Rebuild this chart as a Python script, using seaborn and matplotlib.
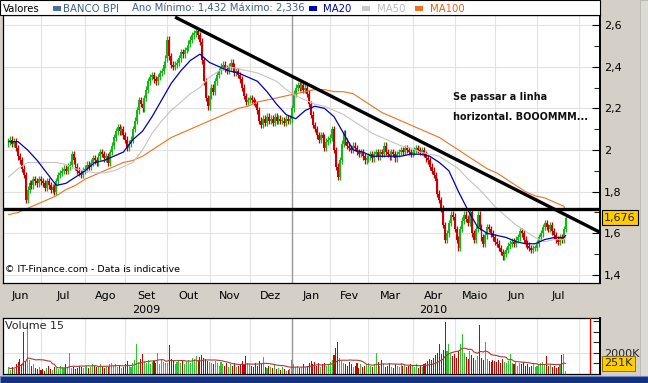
import numpy as np
import pandas as pd
import matplotlib
matplotlib.use("Agg")
import matplotlib.pyplot as plt
import matplotlib.transforms as mtransforms
from matplotlib.patches import Rectangle
from matplotlib import font_manager
from matplotlib.font_manager import FontProperties
import seaborn as sns

# ---------------- data ----------------
month_names = ["Jun", "Jul", "Ago", "Set", "Out", "Nov", "Dez",
               "Jan", "Fev", "Mar", "Abr", "Maio", "Jun", "Jul"]
month_days = [17, 23, 21, 22, 22, 21, 22, 20, 20, 23, 22, 21, 22, 16]
pre_days, post_days = 5, 6          # trading days of first/last month outside the data
year_labels = {"2009": 3, "2010": 10}   # label under month index

close_jun09 = [2.04, 2.05, 2.03, 2.04, 2.01, 1.97, 1.95, 1.91, 1.88, 1.76, 1.81, 1.84, 1.83, 1.86, 1.85, 1.84, 1.86]
close_jul09 = [1.85, 1.84, 1.82, 1.85, 1.83, 1.81, 1.82, 1.80, 1.85, 1.88, 1.89, 1.90, 1.91, 1.90, 1.92, 1.93,
               1.98, 1.95, 1.92, 1.90, 1.89, 1.88, 1.90]
close_aug09 = [1.91, 1.93, 1.92, 1.94, 1.96, 1.95, 1.94, 1.97, 1.99, 1.98, 1.96, 1.97, 1.94, 1.99, 2.02, 2.06,
               2.09, 2.11, 2.09, 2.10, 2.07]
close_sep09 = [2.05, 2.01, 2.03, 2.05, 2.10, 2.14, 2.19, 2.24, 2.22, 2.20, 2.25, 2.29, 2.33, 2.35, 2.36, 2.34,
               2.33, 2.35, 2.37, 2.38, 2.41, 2.44]
close_oct09 = [2.53, 2.45, 2.41, 2.40, 2.41, 2.42, 2.44, 2.47, 2.46, 2.48, 2.49, 2.51, 2.53, 2.55, 2.56, 2.57,
               2.55, 2.52, 2.43, 2.33, 2.25, 2.21]
close_nov09 = [2.26, 2.30, 2.28, 2.33, 2.36, 2.38, 2.40, 2.41, 2.39, 2.38, 2.40, 2.42, 2.40, 2.37, 2.38, 2.36,
               2.34, 2.30, 2.26, 2.23, 2.24]
close_dec09 = [2.25, 2.24, 2.23, 2.22, 2.19, 2.14, 2.12, 2.15, 2.13, 2.16, 2.14, 2.15, 2.13, 2.16, 2.14, 2.15,
               2.14, 2.14, 2.13, 2.15, 2.14, 2.15]
close_jan10 = [2.20, 2.27, 2.30, 2.31, 2.30, 2.31, 2.29, 2.30, 2.27, 2.22, 2.17, 2.12, 2.10, 2.07, 2.05, 2.07,
               2.06, 2.01, 2.04, 2.05]
close_feb10 = [2.06, 2.10, 2.00, 1.92, 1.87, 1.95, 2.03, 2.08, 2.04, 2.02, 2.01, 2.00, 2.02, 2.01, 1.99, 1.98,
               1.99, 1.97, 1.95, 1.96]
close_mar10 = [1.97, 1.98, 1.96, 1.98, 1.99, 1.97, 1.99, 1.98, 2.02, 1.99, 1.98, 1.97, 1.99, 1.98, 1.96, 1.98,
               1.99, 2.00, 1.99, 2.01, 2.00, 1.99, 1.98]
close_apr10 = [1.99, 2.00, 2.01, 2.00, 1.99, 2.00, 1.98, 1.96, 1.95, 1.92, 1.90, 1.88, 1.85, 1.79, 1.76, 1.72,
               1.64, 1.57, 1.60, 1.65, 1.69, 1.68]
close_may10 = [1.62, 1.57, 1.53, 1.62, 1.66, 1.69, 1.67, 1.65, 1.70, 1.60, 1.57, 1.62, 1.69, 1.63, 1.58, 1.55,
               1.59, 1.63, 1.62, 1.60, 1.58]
close_jun10 = [1.56, 1.55, 1.53, 1.51, 1.49, 1.50, 1.52, 1.54, 1.55, 1.56, 1.55, 1.57, 1.58, 1.61, 1.60, 1.57,
               1.55, 1.54, 1.53, 1.52, 1.53, 1.53]
close_jul10 = [1.55, 1.58, 1.60, 1.63, 1.65, 1.63, 1.62, 1.64, 1.61, 1.59, 1.57, 1.56, 1.58, 1.57, 1.62, 1.676]
first_open = 2.03
wick = 0.016

# moving averages sampled every 5 trading days (last point = last day)
ma_step = 5
ma20 = [2.04, 2.04, 2.00, 1.95, 1.89, 1.83, 1.84, 1.87, 1.90, 1.94,
        1.95, 1.97, 1.99, 2.05, 2.09, 2.16, 2.24, 2.32, 2.38, 2.43,
        2.46, 2.42, 2.40, 2.38, 2.37, 2.35, 2.33, 2.28, 2.22, 2.17,
        2.15, 2.19, 2.21, 2.20, 2.16, 2.08, 2.00, 1.99, 1.97, 1.97,
        1.97, 1.97, 1.98, 1.98, 1.97, 1.94, 1.90, 1.80, 1.71, 1.63,
        1.60, 1.59, 1.58, 1.56, 1.55, 1.55, 1.57, 1.58, 1.58, 1.59]
ma50 = [1.87, 1.91, 1.94, 1.94, 1.94, 1.94, 1.93, 1.91, 1.90, 1.89,
        1.89, 1.90, 1.92, 1.94, 2.00, 2.08, 2.14, 2.19, 2.23, 2.27,
        2.30, 2.35, 2.38, 2.40, 2.39, 2.38, 2.37, 2.35, 2.33, 2.29,
        2.26, 2.24, 2.22, 2.21, 2.19, 2.17, 2.14, 2.11, 2.08, 2.06,
        2.04, 2.02, 2.01, 1.99, 1.98, 1.97, 1.94, 1.91, 1.86, 1.82,
        1.77, 1.72, 1.68, 1.64, 1.61, 1.58, 1.56, 1.57, 1.57, 1.58]
ma100 = [1.69, 1.70, 1.72, 1.74, 1.76, 1.78, 1.81, 1.83, 1.86, 1.88,
         1.90, 1.92, 1.94, 1.95, 1.97, 2.00, 2.03, 2.06, 2.08, 2.10,
         2.12, 2.14, 2.16, 2.18, 2.20, 2.21, 2.23, 2.24, 2.25, 2.26,
         2.27, 2.28, 2.29, 2.29, 2.28, 2.28, 2.27, 2.24, 2.21, 2.18,
         2.16, 2.14, 2.12, 2.10, 2.08, 2.06, 2.03, 2.00, 1.97, 1.94,
         1.91, 1.89, 1.86, 1.83, 1.80, 1.78, 1.77, 1.75, 1.73, 1.71]

# volume in thousands
vol_jun09 = [600, 400, 700, 500, 900, 1100, 1400, 900, 4000, 1200, 4900, 1300, 800, 900, 600, 500, 700]
vol_jul09 = [400, 500, 300, 600, 800, 500, 400, 700, 600, 500, 800, 700, 600, 900, 700, 2000, 600, 700, 500,
             600, 800, 700, 600]
vol_aug09 = [700, 800, 600, 700, 900, 800, 700, 800, 900, 700, 600, 800, 700, 900, 1000, 800, 900, 700, 800,
             600, 700]
vol_sep09 = [900, 1200, 800, 700, 1000, 1300, 2800, 1100, 1400, 1900, 1200, 1000, 1300, 900, 1100, 1200, 1000,
             2000, 900, 1300, 1100, 1000]
vol_oct09 = [1000, 2700, 1400, 1200, 900, 1100, 1300, 1000, 1200, 900, 1100, 1300, 1000, 1500, 1400, 1700, 1300,
             1600, 1800, 1500, 1400, 1200]
vol_nov09 = [1100, 1000, 900, 1200, 1000, 800, 1100, 900, 800, 1000, 700, 900, 800, 1000, 700, 800, 900, 1200,
             900, 1700, 1000]
vol_dec09 = [900, 800, 700, 1000, 800, 1200, 900, 1600, 700, 600, 800, 700, 600, 900, 500, 600, 400, 700, 500,
             300, 400, 500]
vol_jan10 = [1300, 900, 700, 800, 600, 700, 900, 700, 800, 1000, 1200, 900, 1100, 800, 1000, 700, 900, 1000,
             800, 900]
vol_feb10 = [1100, 1300, 1800, 2500, 3000, 1500, 1200, 1000, 900, 800, 1100, 900, 700, 800, 1000, 600, 900,
             700, 800, 900]
vol_mar10 = [1000, 800, 700, 900, 2000, 1100, 800, 1300, 900, 700, 800, 1000, 700, 600, 900, 800, 700, 1000,
             800, 900, 700, 800, 900]
vol_apr10 = [800, 700, 900, 600, 800, 700, 900, 1000, 1200, 1400, 1300, 1500, 1800, 2000, 2800, 1900, 2300,
             4900, 2200, 2800, 1900, 1700]
vol_may10 = [1900, 1500, 2200, 2800, 3800, 2000, 1600, 1400, 2200, 1800, 1500, 1300, 1700, 4600, 1500, 1300,
             3000, 1400, 1200, 1100, 1300]
vol_jun10 = [1200, 1100, 1300, 1000, 1400, 1100, 1000, 1200, 1900, 1000, 900, 1100, 800, 1000, 900, 1100, 800,
             900, 700, 800, 900, 700]
vol_jul10 = [800, 900, 1000, 1100, 900, 1700, 800, 900, 700, 800, 600, 700, 900, 1800, 1900, 251]
vol_ma_window = 15

support_level = 1.715
trend_x = [87.0, 308.9]
trend_y = [2.638, 1.605]
last_price_label = "1,676"
last_volume_label = "251K"
cursor_index = 303.7
legend_info = "Ano Mínimo: 1,432 Máximo: 2,336"
note_lines = ["Se passar a linha", "horizontal. BOOOMMM..."]

# ---------------- assemble ----------------
closes = np.array(close_jun09 + close_jul09 + close_aug09 + close_sep09 + close_oct09 + close_nov09 +
                  close_dec09 + close_jan10 + close_feb10 + close_mar10 + close_apr10 + close_may10 +
                  close_jun10 + close_jul10)
volumes = np.array(vol_jun09 + vol_jul09 + vol_aug09 + vol_sep09 + vol_oct09 + vol_nov09 + vol_dec09 +
                   vol_jan10 + vol_feb10 + vol_mar10 + vol_apr10 + vol_may10 + vol_jun10 + vol_jul10, float)
N = len(closes)
idx = np.arange(N)
opens = np.concatenate([[first_open], closes[:-1]])
up = closes >= opens
highs = np.maximum(opens, closes) + wick
lows = np.minimum(opens, closes) - wick

ma_idx = list(range(0, N, ma_step))
if ma_idx[-1] != N - 1:
    ma_idx.append(N - 1)
ma_df = pd.DataFrame({"i": ma_idx, "MA20": ma20, "MA50": ma50, "MA100": ma100})
vol_df = pd.DataFrame({"i": idx, "v": volumes})
vol_df["ma"] = vol_df["v"].rolling(vol_ma_window, min_periods=1).mean()

starts = np.cumsum([0] + month_days[:-1])
bounds = [starts[0] - pre_days] + list(starts[1:]) + [N + post_days]
centers = [(bounds[k] + bounds[k + 1]) / 2 for k in range(len(month_names))]

# ---------------- style ----------------
sns.set_style("white")
plt.rcParams["font.family"] = ["DejaVu Sans"]


def find_narrow_bold():
    best = None
    for f in font_manager.fontManager.ttflist:
        nm = f.name.lower()
        fname = str(f.fname).lower()
        narrowish = ("narrow" in nm or "condensed" in nm or "narrow" in fname or "condensed" in fname
                     or str(f.stretch) in ("condensed", "semi-condensed", "extra-condensed"))
        if not narrowish:
            continue
        w = f.weight if isinstance(f.weight, int) else (700 if "bold" in str(f.weight) else 400)
        score = -abs(w - 700)
        if best is None or score > best[0]:
            best = (score, f.fname)
    return best[1] if best else None


narrow_path = find_narrow_bold()
if narrow_path:
    note_fp = FontProperties(fname=narrow_path, size=8.6)
else:
    note_fp = FontProperties(family="Liberation Sans", weight="bold", size=8.0)

W, H = 648, 383
BG = "#d4d0c8"
GREEN = "#19b419"
RED = "#c80000"
GRID = "#e2e2e2"

fig = plt.figure(figsize=(W / 100, H / 100), dpi=100, facecolor=BG)


def fx(px):
    return px / W


def fy(py):
    return 1 - py / H


XL = (-2.85, 308.9)

# main price axes
ax = fig.add_axes([fx(3), fy(283), fx(600) - fx(3), (283 - 15) / H])
ax.set_facecolor("white")
ax.set_xlim(*XL)
ax.set_ylim(1.3616, 2.648)

for b in bounds[1:]:
    ax.axvline(b, color=GRID, lw=0.8, zorder=0)
for v in [1.4, 1.6, 1.8, 2.0, 2.2, 2.4, 2.6]:
    ax.axhline(v, color=GRID, lw=0.8, zorder=0)
jan_idx = bounds[7]
ax.axvline(jan_idx, color="#9a9a9a", lw=1.0, zorder=0.5)

cols = np.where(up, GREEN, RED)
ax.vlines(idx, lows, highs, colors=cols, lw=0.9, zorder=2)
body_h = np.maximum(np.abs(closes - opens), 0.006)
ax.bar(idx, body_h, bottom=np.minimum(opens, closes), width=1.0, color=cols, linewidth=0, zorder=3)

sns.lineplot(data=ma_df, x="i", y="MA100", ax=ax, color="#f07020", lw=0.8, zorder=4)
sns.lineplot(data=ma_df, x="i", y="MA50", ax=ax, color="#c4c4c4", lw=0.8, zorder=4)
sns.lineplot(data=ma_df, x="i", y="MA20", ax=ax, color="#0000b4", lw=0.9, zorder=5)

ax.axhline(support_level, color="black", lw=2.4, zorder=6)
ax.plot(trend_x, trend_y, color="black", lw=2.4, zorder=6, solid_capstyle="butt")

ax.set_xlabel("")
ax.set_ylabel("")
ax.yaxis.tick_right()
yt = [1.4, 1.6, 1.8, 2.0, 2.2, 2.4, 2.6]
ax.set_yticks(yt)
ax.set_yticklabels([f"{v:g}".replace(".", ",") for v in yt])
ax.set_yticks(np.arange(1.5, 2.61, 0.2), minor=True)
ax.tick_params(axis="y", which="major", direction="in", length=6, width=0.8, pad=3,
               labelsize=8, colors="black", right=True, left=False)
ax.tick_params(axis="y", which="minor", direction="in", length=4, width=0.8, right=True, left=False)
ax.set_xticks(bounds[1:])
ax.set_xticklabels([])
ax.tick_params(axis="x", direction="out", length=4, width=0.8, colors="#303030")
for s in ax.spines.values():
    s.set_color("black")
    s.set_linewidth(0.9)
ax.spines["right"].set_linewidth(1.4)

trans = mtransforms.blended_transform_factory(ax.transData, ax.transAxes)
for name, c in zip(month_names, centers):
    ax.text(c, -13 / 268, name, transform=trans, ha="center", va="center", fontsize=8, color="black")
for yl, k in year_labels.items():
    ax.text(centers[k], -27 / 268, yl, transform=trans, ha="center", va="center", fontsize=8, color="black")

ax.text(2 / 597, 13 / 268, "© IT-Finance.com - Data is indicative", transform=ax.transAxes,
        ha="left", va="center", fontsize=6.8, color="black")
note_texts = []
for k, line in enumerate(note_lines):
    t = ax.text((453 - 3) / 597, (283 - (97 + 20 * k)) / 268, line, transform=ax.transAxes,
                ha="left", va="center", fontproperties=note_fp.copy(), color="#101010")
    note_texts.append(t)

ax.annotate(last_price_label, xy=(1.0, closes[-1]), xycoords=("axes fraction", "data"),
            xytext=(3, 0), textcoords="offset points", ha="left", va="center", fontsize=8,
            bbox=dict(boxstyle="square,pad=0.22", fc="#ffcc00", ec="black", lw=0.8),
            annotation_clip=False, zorder=10)

# volume axes
axv = fig.add_axes([fx(3), fy(374), fx(600) - fx(3), (374 - 318) / H])
axv.set_facecolor("white")
axv.set_xlim(*XL)
axv.set_ylim(0, 5300)
for b in bounds[1:]:
    axv.axvline(b, color=GRID, lw=0.8, zorder=0)
axv.axhline(2000, color=GRID, lw=0.8, zorder=0)
axv.axvline(jan_idx, color="#9a9a9a", lw=1.0, zorder=0.5)
axv.bar(idx, volumes, width=0.55, color=np.where(up, "#2ec42e", RED), linewidth=0, zorder=2)
sns.lineplot(data=vol_df, x="i", y="ma", ax=axv, color="#b03838", lw=0.8, zorder=3)
axv.axvline(cursor_index, color=RED, lw=1.0, zorder=3)
axv.set_xlabel("")
axv.set_ylabel("")
axv.set_xticks([])
axv.yaxis.tick_right()
axv.set_yticks([1000, 2000, 3000, 4000, 5000])
axv.set_yticklabels(["", "2000K", "", "", ""])
axv.tick_params(axis="y", direction="in", length=5, width=0.8, pad=3, labelsize=8,
                right=True, left=False)
for s in axv.spines.values():
    s.set_color("black")
    s.set_linewidth(0.9)
axv.spines["right"].set_linewidth(1.4)
axv.text(2 / 597, 0.86, "Volume 15", transform=axv.transAxes, ha="left", va="center", fontsize=8)
axv.annotate(last_volume_label, xy=(1.0, 0.19), xycoords="axes fraction", xytext=(3, 0),
             textcoords="offset points", ha="left", va="center", fontsize=8,
             bbox=dict(boxstyle="square,pad=0.22", fc="#ffcc00", ec="#806000", lw=0.6),
             annotation_clip=False, zorder=10)

# legend strip on top
fig.patches.append(Rectangle((fx(0), fy(15)), fx(600), 15 / H, transform=fig.transFigure,
                             facecolor="white", edgecolor="black", lw=0.8, zorder=1))
ytxt = fy(8.5)
LFS = 7.3
fig.text(fx(3), ytxt, "Valores", fontsize=LFS, va="center", ha="left", color="black")
items = [(53, "#4a6fa0", 63, "BANCO BPI", "#3c5f8c"),
         (309, "#0000c0", 323, "MA20", "#0000b0"),
         (362, "#c8c8c8", 377, "MA50", "#bcbcbc"),
         (415, "#f07020", 430, "MA100", "#e86010")]
for sx, sc, tx, lab, tc in items:
    fig.patches.append(Rectangle((fx(sx), fy(10.5)), 8 / W, 4 / H, transform=fig.transFigure,
                                 facecolor=sc, edgecolor="none", zorder=2))
    fig.text(fx(tx), ytxt, lab, fontsize=LFS, va="center", ha="left", color=tc)
fig.text(fx(132), ytxt, legend_info, fontsize=LFS, va="center", ha="left", color="#3c5f8c")

# bottom blue bar
fig.patches.append(Rectangle((0, 0), 1, 7 / H, transform=fig.transFigure,
                             facecolor="#12307c", edgecolor="#6d86c0", lw=0.8, zorder=1))
# right separator
fig.patches.append(Rectangle((fx(640), 0), 8 / W, 1, transform=fig.transFigure,
                             facecolor="#dcdad4", edgecolor="#b8b4ac", lw=0.6, zorder=0))

# fit the note's font size: a normal-width bold face, so allow a bit more width than the narrow original
fig.canvas.draw()
renderer = fig.canvas.get_renderer()
wmax = max(t.get_window_extent(renderer).width for t in note_texts)
if wmax > 0:
    new_size = note_fp.get_size_in_points() * 134.0 / wmax
    for t in note_texts:
        t.set_fontsize(new_size)

fig.savefig("out.png", dpi=100, facecolor=BG)
